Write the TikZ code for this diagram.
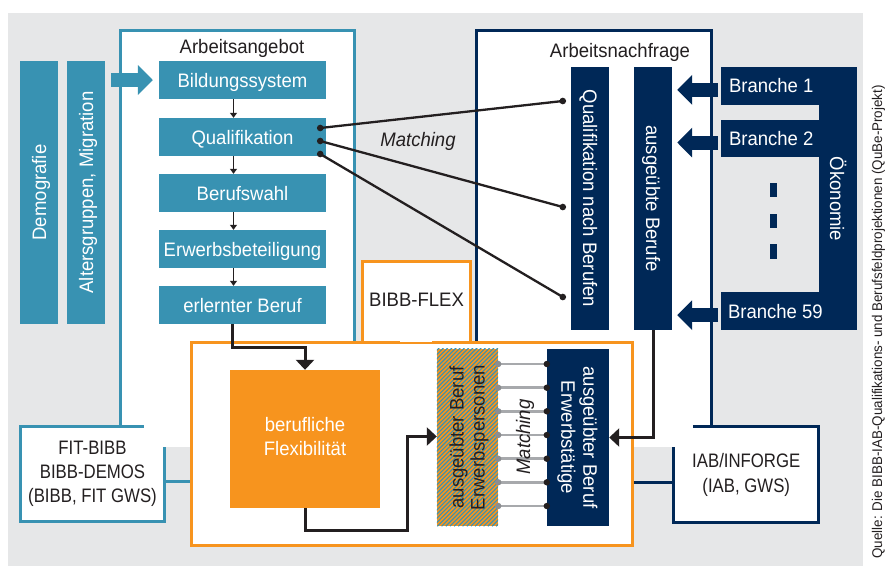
\documentclass[tikz,border=0pt]{standalone}
\usepackage{fontspec}
\setmainfont{Liberation Sans}[FakeStretch=0.95]
\newfontfamily\narrowfont{Liberation Sans}[FakeStretch=0.86]
\usetikzlibrary{arrows.meta,calc}
\definecolor{qteal}{RGB}{56,146,178}
\definecolor{qnavy}{RGB}{0,40,87}
\definecolor{qorange}{RGB}{247,148,30}
\definecolor{qgray}{RGB}{230,231,232}
\definecolor{qdark}{RGB}{35,31,32}
\definecolor{qline}{RGB}{167,169,172}
\definecolor{qdot}{RGB}{140,142,145}
\begin{document}
\begin{tikzpicture}[x=1pt,y=-1pt,
  qfs/.style={font=\fontsize{19.5}{23}\selectfont},
  qfsi/.style={font=\fontsize{19.5}{23}\selectfont\itshape},
  capht/.style={text height=14pt, text depth=0pt},
  tbox/.style={fill=qteal, text=white, inner sep=0pt, minimum width=167pt, minimum height=38pt, qfs, capht},
  colbox/.style={inner sep=0pt, minimum width=38pt, minimum height=263pt},
  nbox/.style={fill=qnavy, inner sep=0pt},
  wtext/.style={text=white, qfs, capht, inner sep=0pt},
  dtext/.style={text=qdark, qfs, capht, inner sep=0pt},
  thickarr/.style={draw=qdark, line width=3pt, -{Triangle[width=18pt,length=10pt]}},
  thinarr/.style={draw=qdark, line width=1.2pt, -{Triangle[width=7pt,length=5pt]}},
  fatarr/.style={line width=14pt, -{Triangle[width=29pt,length=15pt]}},
  mline/.style={draw=qdark, line width=2.3pt},
  gline/.style={draw=qline, line width=2.6pt},
  wfill/.style={fill=white, inner sep=0pt}
]
\useasboundingbox (0,0) rectangle (885,566);
\clip (0,0) rectangle (885,566);
\fill[white] (0,0) rectangle (885,566);
\fill[qgray] (8,13) rectangle (863,566);

% white areas of the two main boxes
\node[wfill, minimum width=234pt, minimum height=416pt] (ang) at (237.5,239) {};
\node[wfill, minimum width=235pt, minimum height=416pt] (nach) at (594,239) {};

% FIT and IAB boxes
\node[wfill, minimum width=144pt, minimum height=95pt] (fit) at (92.5,474) {};
\node[wfill, minimum width=144.5pt, minimum height=96pt] (iab) at (746.25,474.5) {};

% BIBB-FLEX label box and the orange frame
\node[wfill, minimum width=107pt, minimum height=80pt] (bflex) at (416.5,302) {};
\draw[qorange, line width=3pt] (bflex.south west) -- (bflex.north west) -- (bflex.north east) -- (bflex.south east);
\node[draw=qorange, line width=3pt, fill=white, inner sep=0pt, minimum width=440.5pt, minimum height=203.5pt] (outer) at (411.75,443.75) {};
\draw[white, line width=3.6pt] ($(outer.north west)+(209.5,0)$) -- ++(32,0);

% borders
\draw[qteal, line width=3pt] (ang.south west |- fit.north) -- (ang.north west) -- (ang.north east) -- (ang.east |- outer.north);
\draw[qnavy, line width=3pt] (nach.south west |- outer.north) -- (nach.north west) -- (nach.north east) -- (nach.east |- iab.north);
\draw[qteal, line width=3pt] ($(fit.north west)+(123.5,0)$) -- (fit.north west) -- (fit.south west) -- (fit.south east) -- ($(fit.north east)+(0,20.5)$);
\draw[qnavy, line width=3pt] ($(iab.north west)+(19,0)$) -- (iab.north east) -- (iab.south east) -- (iab.south west) -- ($(iab.north west)+(0,20.5)$);
\coordinate (cf) at (0,481);
\draw[qteal, line width=3pt] (fit.east |- cf) -- (outer.west |- cf);
\coordinate (ci) at (0,482);
\draw[qnavy, line width=3pt] (outer.east |- ci) -- (iab.west |- ci);

\node[text=qdark, inner sep=0pt, align=center, font=\narrowfont\fontsize{19.5}{24}\selectfont] (fitT) at (92.5,474) {FIT-BIBB\\BIBB-DEMOS\\(BIBB, FIT GWS)};
\node[text=qdark, inner sep=0pt, align=center, font=\narrowfont\fontsize{19.5}{25}\selectfont] (iabT) at (746.25,475) {IAB/INFORGE\\(IAB, GWS)};
\node[dtext] (bflexT) at (416.5,299) {BIBB-FLEX};

% titles
\node[dtext] (angT) at (242,46) {Arbeitsangebot};
\node[dtext] (nachT) at (620,50) {Arbeitsnachfrage};

% left columns
\node[colbox, fill=qteal] (demo) at (39,192.5) {};
\node[wtext, rotate=90] (demoT) at (demo) {Demografie};
\node[colbox, fill=qteal] (alt) at (86,192.5) {};
\node[wtext, rotate=90] (altT) at (alt) {Altersgruppen, Migration};

% supply chain
\node[tbox] (bild) at (242.5,80) {Bildungssystem};
\node[tbox] (qual) at (242.5,137) {Qualifikation};
\node[tbox] (wahl) at (242.5,193) {Berufswahl};
\node[tbox] (erwb) at (242.5,249) {Erwerbsbeteiligung};
\node[tbox] (erl) at (242.5,305) {erlernter Beruf};
\foreach \a/\b in {bild/qual, qual/wahl, wahl/erwb, erwb/erl}
  \draw[thinarr] ($(\a.south)+(-9,0)$) -- ($(\b.north)+(-9,0)$);
\draw[qteal, fatarr, shorten <=6pt, shorten >=6pt] (alt.east |- bild.west) -- (bild.west);

% demand side
\node[colbox, fill=qnavy] (qnb) at (590,198.5) {};
\node[wtext, rotate=-90] (qnbT) at (qnb) {Qualifikation nach Berufen};
\node[colbox, fill=qnavy] (ausg) at (653,198.5) {};
\node[wtext, rotate=-90] (ausgT) at (ausg) {ausgeübte Berufe};
\node[colbox, fill=qnavy] (oek) at (838,198.5) {};
\node[wtext, rotate=-90] (oekT) at (837,199) {Ökonomie};
\node[nbox, minimum width=98pt, minimum height=37.5pt] (b1) at (770,85.8) {};
\node[nbox, minimum width=98pt, minimum height=37.5pt] (b2) at (770,138.5) {};
\node[nbox, minimum width=98pt, minimum height=37.5pt] (b59) at (770,311.2) {};
\node[wtext, anchor=west] (b1T) at ($(b1.west)+(8,0)$) {Branche 1};
\node[wtext, anchor=west] (b2T) at ($(b2.west)+(8,0)$) {Branche 2};
\node[wtext, anchor=west] (b59T) at ($(b59.west)+(7,0)$) {Branche 59};
\fill[qnavy] (770,183) rectangle (777,197);
\fill[qnavy] (770,213.5) rectangle (777,228);
\fill[qnavy] (770,244) rectangle (777,259);
\foreach \b in {b1,b2,b59}
  \draw[qnavy, fatarr, shorten <=3pt] ($(\b.west)+(0,4)$) -- ($(\b.west -| ausg.east)+(5,4)$);

% matching lines
\foreach \l/\r in {-9/-97.5, 4/8.5, 17/98.5} {
  \draw[mline] ($(qual.east)+(-6,\l)$) -- ($(qnb.west)+(-8,\r)$);
  \fill[qdark] ($(qual.east)+(-6,\l)$) circle (3.3pt);
  \fill[qdark] ($(qnb.west)+(-8,\r)$) circle (3.3pt);
}
\node[text=qdark, qfsi, capht, inner sep=0pt] (m1T) at (418,139) {Matching};

% flexibility part
\node[fill=qorange, inner sep=0pt, minimum width=150pt, minimum height=138pt] (flex) at (305,439) {};
\node[text=white, inner sep=0pt, align=center, font=\fontsize{19.5}{24}\selectfont] (flexT) at (305,437) {berufliche\\Flexibilität};
\node[fill=qorange, inner sep=0pt, minimum width=61pt, minimum height=177pt] (hatch) at (467.5,437.5) {};
\begin{scope}
  \clip (hatch.south west) rectangle (hatch.north east);
  \foreach \i in {0,...,58}
    \draw[qteal, line width=1.1pt] ($(hatch.south west)+(\i*4.2-180,0)$) -- ++(180,-180);
\end{scope}
\node[text=qdark, inner sep=0pt, align=center, rotate=90, font=\fontsize{19.5}{21}\selectfont] (hatchT) at (469,437.5) {ausgeübter Beruf\\Erwerbspersonen};
\node[nbox, minimum width=62pt, minimum height=177pt] (erw) at (578,437.5) {};
\node[text=white, inner sep=0pt, align=center, rotate=-90, font=\fontsize{19.5}{22}\selectfont] (erwT) at (577.5,437.5) {ausgeübter Beruf\\Erwerbstätige};
\foreach \d in {-73.5,-49.8,-26.2,-2.5,21.2,44.8,68.5} {
  \draw[gline] ($(hatch.east)+(0,\d)$) -- ($(erw.west)+(0,\d)$);
  \fill[qdot] ($(hatch.east)+(0,\d)$) circle (3.2pt);
  \fill[qdark] ($(erw.west)+(0,\d)$) circle (3.2pt);
}
\node[text=qdark, qfsi, capht, inner sep=0pt, rotate=90] (m2T) at (523,437) {Matching};

% connectors
\draw[thickarr] ($(erl.south)+(-10,0)$) -- ++(0,23) -| (flex.north);
\draw[thickarr] (flex.south) -- ++(0,22) -| ($(hatch.west)+(-29,-1)$) -- ($(hatch.west)+(0,-1)$);
\draw[thickarr] (ausg.south) |- (erw.east);

% source
\node[text=qdark, inner sep=0pt, rotate=90, anchor=base east, font=\fontsize{14.1}{16}\selectfont] (src) at (882,85) {Quelle: Die BIBB-IAB-Qualifikations- und Berufsfeldprojektionen (QuBe-Projekt)};
\end{tikzpicture}
\end{document}
